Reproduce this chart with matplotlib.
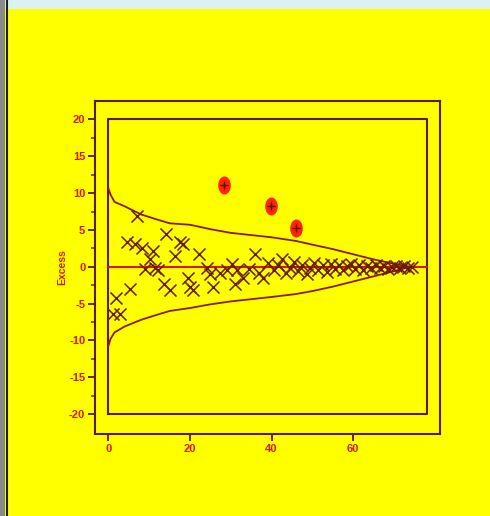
import matplotlib.pyplot as plt
from matplotlib.patches import Rectangle
from matplotlib.lines import Line2D
from matplotlib.path import Path
from matplotlib.transforms import Affine2D

plt.rcParams["axes.unicode_minus"] = False

# funnel limits
curve_x = [0, 0.5, 1.5, 4, 8, 12, 15, 20, 25, 30, 35, 40, 46, 50, 55, 60, 65, 70, 74]
upper_y = [10.6, 9.8, 8.8, 8.2, 7.1, 6.4, 5.9, 5.7, 5.1, 4.6, 4.3, 4.0, 3.5, 3.0, 2.4, 1.7, 1.0, 0.4, 0.0]
lower_y = [-10.7, -9.8, -8.9, -8.1, -7.2, -6.5, -6.0, -5.6, -5.1, -4.7, -4.4, -4.1, -3.7, -3.3, -2.7, -2.0, -1.3, -0.6, 0.0]

# ordinary units
pts_x = [1.2, 1.8, 2.8, 4.5, 5.3, 6.5, 7.1, 8.2, 9.0, 10.2, 11.0, 11.4, 12.2, 13.5, 14.1,
         15.1, 16.3, 17.6, 18.4, 19.4, 20.0, 20.8, 22.1, 24.1, 24.9, 25.7, 27.4, 29.0,
         30.3, 31.0, 31.5, 33.1, 34.5, 36.0, 37.0, 38.0, 39.0, 40.5, 41.5, 42.5, 43.5,
         44.5, 45.5, 46.5, 47.5, 48.7, 49.5, 50.5, 51.5, 52.5, 53.5, 54.5, 55.5, 56.5,
         57.5, 58.5, 59.5, 60.5, 61.5, 62.5, 63.5, 64.5, 65.5, 66.5, 67.5, 68.5, 69.5,
         70.5, 71.5, 72.5, 73.5, 74.5]
pts_y = [-6.4, -4.3, -6.4, 3.3, -3.0, 3.1, 6.9, 2.6, -0.3, 1.0, 2.2, -0.1, -0.5, -2.4, 4.4,
         -3.1, 1.4, 3.3, 3.1, -1.5, -2.8, -3.2, 1.7, -0.1, -1.0, -2.7, -0.8, -0.5,
         0.4, -2.4, -0.5, -1.5, -0.3, 1.8, -0.8, -1.5, 0.5, -0.5, 0.2, 1.0, -0.8,
         -0.2, 0.6, -0.6, 0.3, -1.0, -0.2, 0.5, -0.4, 0.2, -0.7, 0.4, -0.3, 0.3,
         -0.5, 0.1, 0.4, -0.3, 0.2, -0.4, 0.1, -0.2, 0.3, -0.2, 0.1, -0.3, 0.0,
         0.1, -0.2, 0.1, -0.1, 0.0]

# outliers
out_x = [28.4, 39.9, 46.1]
out_y = [11.1, 8.2, 5.2]

yticks = [-20, -15, -10, -5, 0, 5, 10, 15, 20]
xticks = [0, 20, 40, 60]

dark = "#5a1a0c"
red = "#d41a00"

fig = plt.figure(figsize=(4.9, 5.16), dpi=100)
fig.patch.set_facecolor("#ffff00")

# page strips
fig.patches.append(Rectangle((0, 1 - 9 / 516), 1, 9 / 516, transform=fig.transFigure,
                             facecolor="#dbf3ef", edgecolor="none"))
fig.patches.append(Rectangle((0, 0), 5 / 490, 1, transform=fig.transFigure,
                             facecolor="#8a8a8a", edgecolor="none"))
fig.lines.append(Line2D([6.5 / 490, 6.5 / 490], [0, 1], transform=fig.transFigure,
                        color="#202020", lw=1.5))

ax = fig.add_axes([95 / 490, 1 - 434 / 516, 345 / 490, 333 / 516])
ax.set_facecolor("#ffff00")

# inner box
ax.plot([0, 78, 78, 0, 0], [-20, -20, 20, 20, -20], color=dark, lw=1.5)
ax.plot([0, 78], [0, 0], color=red, lw=1.5)

ax.plot(curve_x, upper_y, color="#8b1a05", lw=1.3)
ax.plot(curve_x, lower_y, color="#8b1a05", lw=1.3)

ax.scatter(pts_x, pts_y, marker="x", s=75, color="#6b1a10", linewidths=1.1, zorder=3)

blob = Path.unit_circle().transformed(Affine2D().scale(0.7, 1.0))
ax.plot(out_x, out_y, marker=blob, ls="none", color="#ff2400", ms=13, mec="none", zorder=4)
ax.plot(out_x, out_y, "+", color="#5a0a00", ms=6, mew=1, zorder=5)

ax.set_xlim(-3.3, 81.3)
ax.set_ylim(-22.7, 22.5)
ax.set_xticks(xticks)
ax.set_yticks(yticks)
ax.set_yticks([v + 2.5 for v in yticks[:-1]], minor=True)

for s in ax.spines.values():
    s.set_color(dark)
    s.set_linewidth(1.5)

ax.tick_params(axis="both", which="major", direction="out", length=5, width=1.3,
               color=dark, labelcolor=red, labelsize=8, pad=2)
ax.tick_params(axis="y", which="minor", direction="out", length=3, width=1.1, color=dark)
for lab in ax.get_xticklabels() + ax.get_yticklabels():
    lab.set_fontweight("bold")
    lab.set_family("Liberation Sans")

ax.set_ylabel("Excess", color=red, fontsize=7.5, fontweight="bold",
              family="Liberation Sans", labelpad=1)

fig.savefig("out.png", dpi=100, facecolor=fig.get_facecolor())
